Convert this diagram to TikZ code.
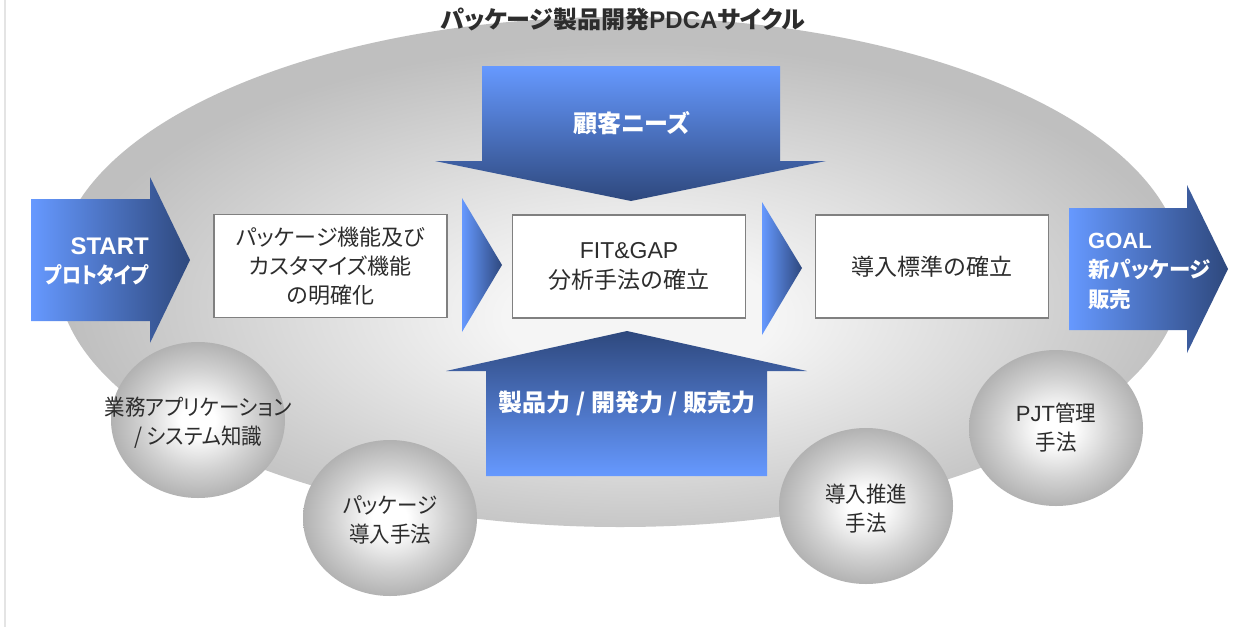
\documentclass[tikz,border=0pt]{standalone}
\usepackage{fontspec}
\setmainfont{Noto Sans CJK JP}[RawFeature=+palt]
\newfontfamily\jpcond{Noto Sans CJK JP}[RawFeature=+palt, FakeStretch=0.86]
\newfontfamily\jpcirc{Noto Sans CJK JP}[RawFeature=+palt, FakeStretch=0.93]
\newfontfamily\lat{Liberation Sans}
\definecolor{bl}{RGB}{102,153,255}
\definecolor{bd}{RGB}{46,72,125}
\definecolor{txt}{RGB}{45,45,45}
\definecolor{boxgray}{RGB}{128,128,128}
\definecolor{ein}{RGB}{245,245,245}
\definecolor{emid}{RGB}{220,220,220}
\definecolor{eout}{RGB}{191,191,191}
\definecolor{cin}{RGB}{255,255,255}
\definecolor{cmid}{RGB}{210,210,210}
\definecolor{cout}{RGB}{178,178,178}
\pgfdeclareradialshading{bigell}{\pgfpoint{1bp}{-5bp}}{color(0bp)=(ein); color(6bp)=(ein); color(15bp)=(emid); color(25bp)=(eout); color(50bp)=(eout)}
\pgfdeclareradialshading{ballshade}{\pgfpoint{0bp}{0bp}}{color(0bp)=(cin); color(5bp)=(cin); color(16bp)=(cmid); color(25bp)=(cout); color(50bp)=(cout)}
\begin{document}
\begin{tikzpicture}[x=1pt,y=-1pt,
  procbox/.style={draw=boxgray, line width=1.2pt, fill=white, inner sep=0pt,
    minimum width=233pt, minimum height=103pt, align=center, text=txt},
  btext/.style={align=center, text=txt, font=\jpcirc\fontsize{22}{29}\selectfont},
  wtext/.style={text=white, inner sep=0pt, font=\bfseries\fontsize{22}{29}\selectfont},
  ballpath/.style={shading=ballshade}]
\useasboundingbox (0,0) rectangle (1253,627);
\fill[white] (0,0) rectangle (1253,627);
\draw[line width=2pt, draw={rgb,255:red,228;green,228;blue,228}] (5,0) -- (5,627);
% big ellipse
\shade[shading=bigell] (620,272) ellipse [x radius=563, y radius=255];
% title
\node[text=txt, font=\bfseries\fontsize{24}{28}\selectfont, inner sep=0pt] (title) at (623,19) {パッケージ製品開発{\lat PDCA}サイクル};
% balls
\shade[ballpath] (198,420) ellipse [x radius=87, y radius=78];
\shade[ballpath] (390,518) ellipse [x radius=87, y radius=78];
\shade[ballpath] (866,506) ellipse [x radius=87, y radius=78];
\shade[ballpath] (1056,428) ellipse [x radius=87, y radius=78];
\node[btext] (c1) at (198,423) {業務アプリケーション\\/ システム知識};
\node[btext] (c2) at (390,520) {パッケージ\\導入手法};
\node[btext] (c3) at (866,509) {導入推進\\手法};
\node[btext] (c4) at (1056,428) {{\lat PJT}管理\\手法};
% start arrow
\shade[left color=bl, right color=bd] (31,199) -- (150,199) -- (150,177) -- (190,260) -- (150,343) -- (150,321) -- (31,321) -- cycle;
\node[wtext, align=right, anchor=east] (start) at (149,261) {{\lat\fontsize{24}{29}\selectfont START}\\{\jpcond プロトタイプ}};
% goal arrow
\shade[left color=bl, right color=bd] (1069,208) -- (1187,208) -- (1187,185) -- (1228,269) -- (1187,353) -- (1187,330) -- (1069,330) -- cycle;
\node[wtext, align=left, anchor=west, font=\bfseries\fontsize{21.5}{29.5}\selectfont] (goal) at (1088,271) {{\lat\fontsize{22}{29.5}\selectfont GOAL}\\新パッケージ\\販売};
% top arrow
\shade[top color=bl, bottom color=bd] (482,66) -- (780,66) -- (780,161) -- (826,161) -- (631,201) -- (435,161) -- (482,161) -- cycle;
\node[wtext, font=\bfseries\fontsize{24}{29}\selectfont] (needs) at (632,123) {顧客ニーズ};
% bottom arrow
\shade[top color=bd, bottom color=bl] (627,331) -- (807,371) -- (767,371) -- (767,476) -- (486,476) -- (486,371) -- (446,371) -- cycle;
\node[wtext, font=\bfseries\fontsize{24}{29}\selectfont] (power) at (627,403) {製品力 / 開発力 / 販売力};
% chevrons
\shade[left color=bl, right color=bd] (462,198) -- (502,265) -- (462,332) -- cycle;
\shade[left color=bl, right color=bd] (762,202) -- (802,268) -- (762,335) -- cycle;
% process boxes
\node[procbox, font=\fontsize{22}{29}\selectfont] (b1) at (330.5,266) {パッケージ機能及び\\カスタマイズ機能\\の明確化};
\node[procbox, font=\fontsize{23}{30}\selectfont] (b2) at (629,266.5) {{\lat FIT\&GAP}\\分析手法の確立};
\node[procbox, font=\fontsize{23}{30}\selectfont] (b3) at (932,266.5) {導入標準の確立};
\end{tikzpicture}
\end{document}
